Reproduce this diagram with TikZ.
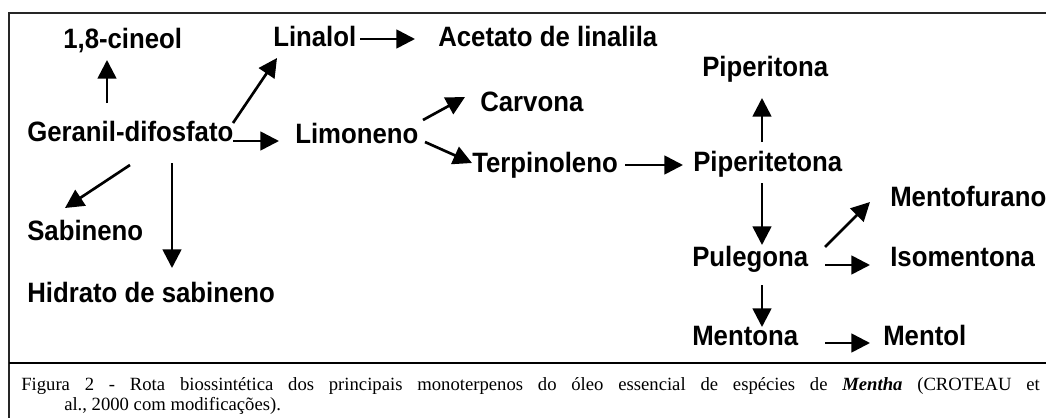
\documentclass[tikz,border=0pt]{standalone}
\usepackage{fontspec}
\setmainfont{Liberation Serif}
\newfontfamily\pathfont[FakeStretch=0.92]{Liberation Sans}
\usetikzlibrary{arrows.meta}

\tikzset{
  composto/.style={font=\pathfont\bfseries\fontsize{21}{24}\selectfont, inner sep=0pt,
    anchor=base west, text height=15pt, text depth=4pt},
  seta/.style={line width=2pt, -{Triangle[length=14pt,width=14pt]}},
  legenda/.style={anchor=base west, inner sep=0pt, font=\fontsize{14}{16}\selectfont},
  moldura/.style={line width=1.5pt, draw=black!85}
}

\begin{document}
\begin{tikzpicture}[x=0.75pt, y=-0.75pt]
  \useasboundingbox (0,0) rectangle (1046,418);

  % frame
  \draw[moldura] (1046,13) -- (9,13) -- (9,418);
  \draw[line width=1pt] (9,363) -- (1046,363);

  % compounds
  \node[composto] (cin) at (63,48) {1,8-cineol};
  \node[composto] (lin) at (273,46) {Linalol};
  \node[composto] (ace) at (438,46) {Acetato de linalila};
  \node[composto] (pto) at (702,76) {Piperitona};
  \node[composto] (car) at (480,111) {Carvona};
  \node[composto] (ger) at (27,141) {Geranil-difosfato};
  \node[composto] (lim) at (295,143) {Limoneno};
  \node[composto] (ter) at (472,172) {Terpinoleno};
  \node[composto] (pte) at (693,171) {Piperitetona};
  \node[composto] (mfu) at (890,206) {Mentofurano};
  \node[composto] (sab) at (27,240) {Sabineno};
  \node[composto] (pul) at (692,266) {Pulegona};
  \node[composto] (iso) at (890,266) {Isomentona};
  \node[composto] (hid) at (27,302) {Hidrato de sabineno};
  \node[composto] (mna) at (692,345) {Mentona};
  \node[composto] (mol) at (883,345) {Mentol};

  % arrows
  \draw[seta] ([shift={(80,-38)}]ger.base west) -- ([shift={(44,12)}]cin.base west);
  \draw[seta] ([shift={(206,-18)}]ger.base west) -- ([shift={(4,12)}]lin.base west);
  \draw[seta] ([shift={(206,0)}]ger.base west) -- ([shift={(-16,-2)}]lim.base west);
  \draw[seta] ([shift={(103,24)}]ger.base west) -- ([shift={(38,-32)}]sab.base west);
  \draw[seta] ([shift={(145,22)}]ger.base west) -- ([shift={(145,-34)}]hid.base west);
  \draw[seta] ([shift={(87,-7)}]lin.base west) -- ([shift={(-23,-7)}]ace.base west);
  \draw[seta] ([shift={(128,-23)}]lim.base west) -- ([shift={(-15,-14)}]car.base west);
  \draw[seta] ([shift={(130,-1)}]lim.base west) -- ([shift={(0,-9)}]ter.base west);
  \draw[seta] ([shift={(153,-7)}]ter.base west) -- ([shift={(-10,-6)}]pte.base west);
  \draw[seta] ([shift={(69,-29)}]pte.base west) -- ([shift={(60,22)}]pto.base west);
  \draw[seta] ([shift={(69,12)}]pte.base west) -- ([shift={(70,-21)}]pul.base west);
  \draw[seta] ([shift={(133,-19)}]pul.base west) -- ([shift={(-20,-4)}]mfu.base west);
  \draw[seta] ([shift={(133,-1)}]pul.base west) -- ([shift={(-20,-1)}]iso.base west);
  \draw[seta] ([shift={(70,19)}]pul.base west) -- ([shift={(70,-18)}]mna.base west);
  \draw[seta] ([shift={(133,-2)}]mna.base west) -- ([shift={(-13,-2)}]mol.base west);

  % caption
  \node[legenda] (leg) at (21,390)
    {\makebox[764pt][s]{Figura 2 - Rota biossintética dos principais monoterpenos
     do óleo essencial de espécies de {\bfseries\itshape Mentha} (CROTEAU et}};
  \node[legenda] (legb) at (64,410) {al., 2000 com modificações).};
\end{tikzpicture}
\end{document}
